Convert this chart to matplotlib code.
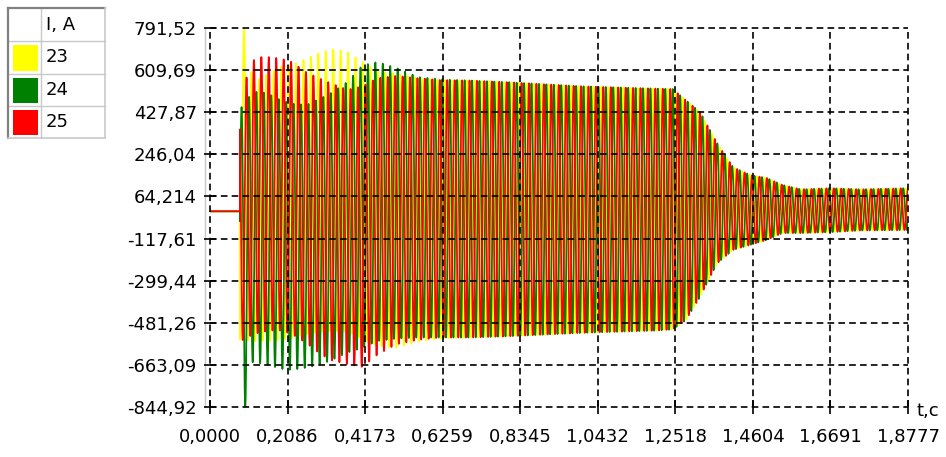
import numpy as np
import matplotlib
matplotlib.use("Agg")
import matplotlib.pyplot as plt
from matplotlib.patches import Rectangle
from matplotlib.lines import Line2D

# ---------------- data ----------------
series_names = ["23", "24", "25"]
series_colors = ["#FFFF00", "#008000", "#FF0000"]
legend_header = "I, A"

x_tick_labels = ["0,0000", "0,2086", "0,4173", "0,6259", "0,8345",
                 "1,0432", "1,2518", "1,4604", "1,6691", "1,8777"]
y_tick_labels = ["-844,92", "-663,09", "-481,26", "-299,44", "-117,61",
                 "64,214", "246,04", "427,87", "609,69", "791,52"]
t_min, t_max = 0.0, 1.8777
i_min, i_max = -844.92, 791.52

f_grid = 50.0          # Hz, network frequency
t_fault = 0.0805       # s, fault instant
t_first_peak = 0.0915  # s, first peak of phase 23
prefault_current = 0.0
phase_shift_deg = [0.0, 120.0, -120.0]   # 23, 24, 25

# envelope knots, early transient (per phase)
t_early = [0.0805, 0.096, 0.106, 0.13, 0.16, 0.19, 0.22, 0.26, 0.30,
           0.33, 0.37, 0.41, 0.45, 0.50, 0.56, 0.62]
upper_23 = [791, 791, 610, 570, 597, 625, 632, 660, 688, 700, 688, 645, 605, 595, 575, 567]
lower_23 = [-555, -555, -560, -560, -560, -555, -545, -530, -520, -515, -520, -550, -580, -590, -564, -550]
upper_24 = [450, 450, 500, 520, 505, 480, 465, 460, 490, 515, 560, 630, 645, 620, 580, 570]
lower_24 = [-845, -845, -650, -655, -665, -680, -685, -675, -660, -640, -610, -590, -560, -550, -545, -545]
upper_25 = [500, 560, 640, 666, 666, 660, 645, 600, 570, 550, 525, 540, 575, 585, 575, 567]
lower_25 = [-556, -556, -540, -525, -515, -515, -530, -570, -620, -645, -660, -672, -620, -575, -555, -545]

# envelope knots, later part (common to the three phases)
t_late = [0.70, 0.80, 1.00, 1.20, 1.245, 1.28, 1.318, 1.364, 1.407, 1.453,
          1.498, 1.54, 1.59, 1.67, 1.75, 1.8777]
upper_late = [565, 558, 540, 530, 528, 480, 430, 295, 191, 157, 144, 114, 95, 100, 95, 100]
lower_late = [-545, -540, -525, -515, -510, -470, -370, -225, -167, -145, -124, -94, -94, -90, -83, -81]

# ---------------- figure ----------------
W, H, DPI = 946, 457, 100
fig = plt.figure(figsize=(W / DPI, H / DPI), dpi=DPI)
fig.patch.set_facecolor("white")
ax_l, ax_r, ax_t, ax_b = 210, 908, 28, 407
ax = fig.add_axes([ax_l / W, 1 - ax_b / H, (ax_r - ax_l) / W, (ax_b - ax_t) / H])
ax.set_facecolor("white")
for s in ax.spines.values():
    s.set_visible(False)

t = np.arange(t_min, t_max + 1e-9, 0.0002)
knots = np.concatenate([t_early, t_late])
uppers = [upper_23, upper_24, upper_25]
lowers = [lower_23, lower_24, lower_25]
for name, col, up, lo, sh in zip(series_names, series_colors, uppers, lowers, phase_shift_deg):
    U = np.interp(t, knots, np.concatenate([up, upper_late]))
    L = np.interp(t, knots, np.concatenate([lo, lower_late]))
    mid = (U + L) / 2
    amp = (U - L) / 2
    ang = 2 * np.pi * f_grid * (t - t_first_peak) + np.pi / 2 + np.deg2rad(sh)
    y = np.where(t >= t_fault, mid + amp * np.sin(ang), prefault_current)
    ax.plot(t, y, color=col, lw=1.25, antialiased=True, zorder=2)

ax.set_xlim(t_min, t_max)
ax.set_ylim(i_min, i_max)
ax.set_xticks(np.linspace(t_min, t_max, len(x_tick_labels)))
ax.set_xticklabels(x_tick_labels)
ax.set_yticks(np.linspace(i_min, i_max, len(y_tick_labels)))
ax.set_yticklabels(y_tick_labels)
ax.tick_params(axis="both", direction="inout", colors="black", width=1.2,
               labelsize=13, labelcolor="black")
ax.tick_params(axis="y", length=9, pad=5)
ax.tick_params(axis="x", length=10, pad=10)
ax.grid(True, color="black", linestyle=(0, (4, 2.5)), linewidth=1.2, zorder=3)
ax.set_axisbelow(False)
for gl in ax.get_xgridlines() + ax.get_ygridlines():
    gl.set_clip_on(False)
    gl.set_zorder(3)

# light grey axis line left of the dashed one
ax.add_line(Line2D([-5 / (ax_r - ax_l)] * 2, [0, 1], transform=ax.transAxes,
                   color="#c8c8c8", lw=1.0, clip_on=False))

fig.text(916 / W, 1 - 411 / H, "t,c", fontsize=13, ha="left", va="center")

# ---------------- legend table ----------------
def fbox(x0, y0, x1, y1, **kw):
    r = Rectangle((x0 / W, 1 - y1 / H), (x1 - x0) / W, (y1 - y0) / H,
                  transform=fig.transFigure, **kw)
    fig.add_artist(r)

def fline(xs, ys, **kw):
    fig.add_artist(Line2D([x / W for x in xs], [1 - y / H for y in ys],
                          transform=fig.transFigure, **kw))

lx0, lx1, ly0, ly1, lcol = 8, 105, 8, 138, 41
fbox(lx0, ly0, lx1, ly1, facecolor="white", edgecolor="none")
rows = [ly0, 41, 74, 106, ly1]
for yy in rows[1:-1]:
    fline([lx0, lx1], [yy, yy], color="#c8c8c8", lw=1.0)
fline([lcol, lcol], [ly0, ly1], color="#c8c8c8", lw=1.0)
fline([lx0, lx0], [ly1, ly0], color="#808080", lw=1.6)
fline([lx0, lx1], [ly0, ly0], color="#808080", lw=1.6)
fline([lx1, lx1], [ly0, ly1], color="#c8c8c8", lw=1.2)
fline([lx0, lx1], [ly1, ly1], color="#c8c8c8", lw=1.2)
fig.text((lcol + 5) / W, 1 - (rows[0] + rows[1]) / 2 / H, legend_header,
         fontsize=13, ha="left", va="center")
for k, (name, col) in enumerate(zip(series_names, series_colors)):
    ya, yb = rows[k + 1], rows[k + 2]
    fbox(lx0 + 5, ya + 4, lcol - 3, yb - 3, facecolor=col, edgecolor="none")
    fig.text((lcol + 5) / W, 1 - (ya + yb) / 2 / H, name, fontsize=13,
             ha="left", va="center")

fig.savefig("out.png", dpi=DPI, facecolor="white")
